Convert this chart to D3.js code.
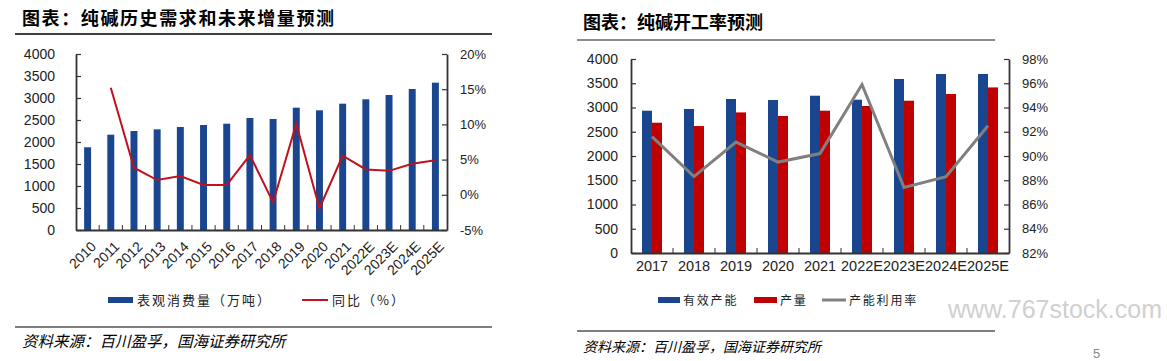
<!DOCTYPE html>
<html>
<head>
<meta charset="utf-8">
<script src="https://cdn.jsdelivr.net/npm/d3@7"></script>
<style>
  body { margin: 0; background: #fff; }
  text { font-family: "Liberation Sans", Arial, sans-serif; }
  .cn { font-family: "Noto Sans CJK SC", sans-serif; }
</style>
</head>
<body>
<svg></svg>
<script>
// left chart data
let years = ['2010','2011','2012','2013','2014','2015','2016','2017','2018','2019','2020','2021','2022E','2023E','2024E','2025E']
let consumption = [1880, 2166, 2250, 2288, 2341, 2386, 2416, 2545, 2523, 2780, 2720, 2871, 2970, 3068, 3205, 3348]
let yoy = [null, 15.2, 3.85, 2.1, 2.67, 1.4, 1.4, 5.65, -1.07, 10.1, -1.9, 5.55, 3.6, 3.4, 4.4, 4.9]

// right chart data
let years2 = ['2017','2018','2019','2020','2021','2022E','2023E','2024E','2025E']
let capacity = [2934, 2969, 3175, 3155, 3243, 3161, 3588, 3691, 3691]
let output = [2686, 2618, 2899, 2825, 2934, 3031, 3140, 3278, 3414]
let utilization = [91.6, 88.3, 91.15, 89.5, 90.2, 95.9, 87.4, 88.3, 92.5]

let blue = '#1a468f', red = '#c00000', grey = '#808080', axisCol = '#333'

let svg = d3.select('svg').attr('width', 1167).attr('height', 361)

// ---------- left chart ----------
let x = d3.scaleBand().domain(years).range([76, 447]).paddingInner(0.7).paddingOuter(0.35)
let yL = d3.scaleLinear().domain([0, 4000]).range([230, 54])
let yR = d3.scaleLinear().domain([-5, 20]).range([230, 54])

svg.append('text').attr('class', 'cn').attr('x', 22).attr('y', 25)
   .attr('font-size', 18).attr('font-weight', 'bold').attr('letter-spacing', 1.6)
   .text('图表：纯碱历史需求和未来增量预测')
svg.append('line').attr('x1', 15).attr('x2', 492).attr('y1', 34).attr('y2', 34)
   .attr('stroke', '#000').attr('stroke-width', 1.5)

svg.selectAll('.bar1').data(years).enter().append('rect')
   .attr('x', d => x(d))
   .attr('y', (d, i) => yL(consumption[i]))
   .attr('width', x.bandwidth())
   .attr('height', (d, i) => yL(0) - yL(consumption[i]))
   .attr('fill', blue)

let line1 = d3.line()
   .defined(d => d[1] != null)
   .x(d => x(d[0]) + x.bandwidth() / 2)
   .y(d => yR(d[1]))
svg.append('path').datum(years.map((d, i) => [d, yoy[i]]))
   .attr('d', line1).attr('fill', 'none').attr('stroke', '#c0121c').attr('stroke-width', 2)

let axL = svg.append('g').attr('transform', 'translate(76,0)')
   .call(d3.axisRight(yL).tickValues(d3.range(0, 4001, 500)).tickFormat(d3.format('d')).tickSize(5).tickSizeOuter(0))
axL.selectAll('text').attr('x', -21).attr('text-anchor', 'end').attr('font-size', 14).attr('fill', '#222')
let axR = svg.append('g').attr('transform', 'translate(447,0)')
   .call(d3.axisLeft(yR).tickValues(d3.range(-5, 21, 5)).tickFormat(d => d + '%').tickSize(5).tickSizeOuter(0))
axR.selectAll('text').attr('x', 13).attr('text-anchor', 'start').attr('font-size', 13).attr('fill', '#222')

let axX = svg.append('g').attr('transform', 'translate(0,230)')
   .call(d3.axisBottom(x).tickSize(0).tickSizeOuter(0))
axX.selectAll('text').attr('font-size', 14).attr('fill', '#222')
   .attr('text-anchor', 'end').attr('dy', '0.35em').attr('y', 0)
   .attr('transform', 'translate(6,14) rotate(-45)')
svg.append('g').selectAll('line').data(years.slice(1)).enter().append('line')
   .attr('x1', d => x(d) - x.step() * x.paddingInner() / 2)
   .attr('x2', d => x(d) - x.step() * x.paddingInner() / 2)
   .attr('y1', 230).attr('y2', 225).attr('stroke', axisCol)
;[axL, axR, axX].forEach(a => {
  a.selectAll('path,line').attr('stroke', axisCol).attr('stroke-width', 1.2)
  a.select('.domain').attr('stroke-width', 1.8)
})

// legend
svg.append('rect').attr('x', 108).attr('y', 297).attr('width', 25).attr('height', 6).attr('fill', blue)
svg.append('text').attr('class', 'cn').attr('x', 137).attr('y', 305).attr('font-size', 13)
   .attr('letter-spacing', 2).attr('fill', '#222').text('表观消费量（万吨）')
svg.append('line').attr('x1', 302).attr('x2', 328).attr('y1', 300).attr('y2', 300).attr('stroke', '#c0121c').attr('stroke-width', 2)
svg.append('text').attr('class', 'cn').attr('x', 332).attr('y', 305).attr('font-size', 13)
   .attr('letter-spacing', 2).attr('fill', '#222').text('同比（%）')

svg.append('line').attr('x1', 15).attr('x2', 492).attr('y1', 327).attr('y2', 327)
   .attr('stroke', '#000').attr('stroke-width', 1.2)
svg.append('text').attr('class', 'cn').attr('x', 22).attr('y', 347).attr('font-size', 15.5)
   .attr('font-style', 'italic').attr('fill', '#000').text('资料来源：百川盈孚，国海证券研究所')

// ---------- right chart ----------
let x2 = d3.scaleBand().domain(years2).range([631, 1009]).paddingInner(0.524).paddingOuter(0.262)
let xSub = d3.scaleBand().domain(['cap', 'out']).range([0, x2.bandwidth()])
let y2L = d3.scaleLinear().domain([0, 4000]).range([253, 59])
let y2R = d3.scaleLinear().domain([82, 98]).range([253, 59])

svg.append('text').attr('class', 'cn').attr('x', 583).attr('y', 29)
   .attr('font-size', 18).attr('font-weight', 'bold')
   .text('图表：纯碱开工率预测')
svg.append('line').attr('x1', 577).attr('x2', 995).attr('y1', 40).attr('y2', 40)
   .attr('stroke', '#666').attr('stroke-width', 1.5)

svg.selectAll('.bar2').data(years2).enter().append('rect')
   .attr('x', d => x2(d) + xSub('cap'))
   .attr('y', (d, i) => y2L(capacity[i]))
   .attr('width', xSub.bandwidth())
   .attr('height', (d, i) => y2L(0) - y2L(capacity[i]))
   .attr('fill', blue)
svg.selectAll('.bar3').data(years2).enter().append('rect')
   .attr('x', d => x2(d) + xSub('out'))
   .attr('y', (d, i) => y2L(output[i]))
   .attr('width', xSub.bandwidth())
   .attr('height', (d, i) => y2L(0) - y2L(output[i]))
   .attr('fill', red)

let line2 = d3.line()
   .x(d => x2(d[0]) + x2.bandwidth() / 2)
   .y(d => y2R(d[1]))
svg.append('path').datum(years2.map((d, i) => [d, utilization[i]]))
   .attr('d', line2).attr('fill', 'none').attr('stroke', grey).attr('stroke-width', 3)

let ax2L = svg.append('g').attr('transform', 'translate(631,0)')
   .call(d3.axisRight(y2L).tickValues(d3.range(0, 4001, 500)).tickFormat(d3.format('d')).tickSize(5).tickSizeOuter(0))
ax2L.selectAll('text').attr('x', -13).attr('text-anchor', 'end').attr('font-size', 14).attr('fill', '#222')
let ax2R = svg.append('g').attr('transform', 'translate(1009,0)')
   .call(d3.axisLeft(y2R).tickValues(d3.range(82, 99, 2)).tickFormat(d => d + '%').tickSize(5).tickSizeOuter(0))
ax2R.selectAll('text').attr('x', 13).attr('text-anchor', 'start').attr('font-size', 13).attr('fill', '#222')
let ax2X = svg.append('g').attr('transform', 'translate(0,253)')
   .call(d3.axisBottom(x2).tickSize(0).tickSizeOuter(0))
ax2X.selectAll('text').attr('font-size', 14.5).attr('fill', '#222').attr('dy', '1.05em')
svg.append('g').selectAll('line').data(years2.slice(1)).enter().append('line')
   .attr('x1', d => x2(d) - x2.step() * x2.paddingInner() / 2)
   .attr('x2', d => x2(d) - x2.step() * x2.paddingInner() / 2)
   .attr('y1', 253).attr('y2', 248).attr('stroke', axisCol)
;[ax2L, ax2R, ax2X].forEach(a => {
  a.selectAll('path,line').attr('stroke', axisCol).attr('stroke-width', 1.2)
  a.select('.domain').attr('stroke-width', 1.8)
})

// legend
svg.append('rect').attr('x', 658).attr('y', 297).attr('width', 22).attr('height', 6).attr('fill', blue)
svg.append('text').attr('class', 'cn').attr('x', 683).attr('y', 305).attr('font-size', 12)
   .attr('letter-spacing', 1.8).attr('fill', '#222').text('有效产能')
svg.append('rect').attr('x', 754).attr('y', 297).attr('width', 23).attr('height', 6).attr('fill', red)
svg.append('text').attr('class', 'cn').attr('x', 780).attr('y', 305).attr('font-size', 12)
   .attr('letter-spacing', 1.8).attr('fill', '#222').text('产量')
svg.append('line').attr('x1', 822).attr('x2', 846).attr('y1', 300).attr('y2', 300).attr('stroke', grey).attr('stroke-width', 3)
svg.append('text').attr('class', 'cn').attr('x', 849).attr('y', 305).attr('font-size', 12)
   .attr('letter-spacing', 1.8).attr('fill', '#222').text('产能利用率')

svg.append('text').attr('x', 948).attr('y', 318).attr('font-size', 25).attr('fill', '#d0d0d0')
   .text('www.767stock.com')

svg.append('line').attr('x1', 577).attr('x2', 995).attr('y1', 331).attr('y2', 331)
   .attr('stroke', '#000').attr('stroke-width', 1.2)
svg.append('text').attr('class', 'cn').attr('x', 583).attr('y', 352).attr('font-size', 14)
   .attr('font-style', 'italic').attr('fill', '#000').text('资料来源：百川盈孚，国海证券研究所')
svg.append('text').attr('x', 1093).attr('y', 358).attr('font-size', 13).attr('fill', '#888').text('5')
</script>
</body>
</html>
